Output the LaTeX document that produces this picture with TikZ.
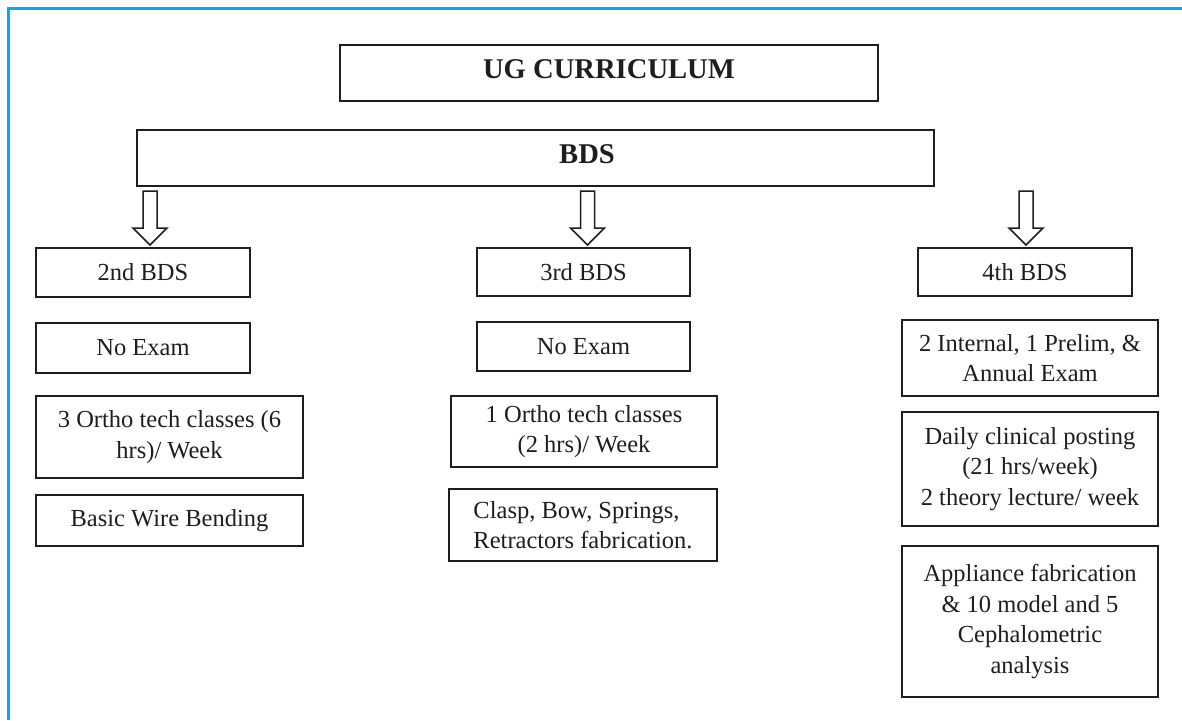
\documentclass[tikz,border=0pt]{standalone}
\usepackage{fontspec}
\setmainfont{Liberation Serif}
\usetikzlibrary{calc}

\definecolor{framecyan}{HTML}{00AEEF}
\definecolor{ink}{HTML}{1E1E1E}

\newcommand\basefont{\fontsize{24.5}{30.5}\selectfont}
\newcommand\headfont{\fontsize{28.6}{34}\selectfont\bfseries}

% hollow block arrow pointing down: #1 = x position, #2 = upper node, #3 = lower node
\newcommand\openarrow[3]{%
  \draw[arrowbody] let \p1=(#2.south), \p2=(#3.north) in
    (#1pt-7pt,\y1-5pt) -- (#1pt+7pt,\y1-5pt) -- (#1pt+7pt,\y2+20pt)
    -- (#1pt+17pt,\y2+20pt) -- (#1pt,\y2+3pt) -- (#1pt-17pt,\y2+20pt)
    -- (#1pt-7pt,\y2+20pt) -- cycle;}

\tikzset{
  box/.style={draw=ink, line width=1.6pt, rectangle, inner sep=0pt, outer sep=0pt,
    text=ink, font=\basefont, align=center},
  headbox/.style={box, font=\headfont},
  arrowbody/.style={draw=ink, line width=1.5pt, fill=white, line join=miter},
}

\begin{document}
\begin{tikzpicture}[x=1pt, y=-1pt]
\useasboundingbox (0,0) rectangle (1182,720);
\fill[white] (0,0) rectangle (1182,720);

% frame
\draw[framecyan, line width=2.6pt] (8.5,720) -- (8.5,8.5) -- (1182,8.5);

% headings
\node[headbox, minimum width=538pt, minimum height=56pt, text depth=8pt] (ug) at (609,73) {UG CURRICULUM};
\node[box, minimum width=797pt, minimum height=56pt] (bds) at (535.5,158) {};
\node[font=\headfont, text=ink, inner sep=0pt, anchor=base] (bdslabel) at (587,163) {BDS};

% year boxes
\node[box, minimum width=214pt, minimum height=49pt] (y2) at (143,272.5) {2nd BDS};
\node[box, minimum width=213pt, minimum height=48pt] (y3) at (583.5,272) {3rd BDS};
\node[box, minimum width=214pt, minimum height=48pt] (y4) at (1025,272) {4th BDS};

\openarrow{150}{bds}{y2}
\openarrow{587.5}{bds}{y3}
\openarrow{1026}{bds}{y4}

% 2nd BDS column
\node[box, minimum width=214pt, minimum height=50pt] (y2exam) at (143,348) {No Exam};
\node[box, minimum width=267pt, minimum height=82pt] (y2class) at (169.5,437) {3 Ortho tech classes (6\\hrs)/ Week};
\node[box, minimum width=267pt, minimum height=51pt] (y2work) at (169.5,520.5) {Basic Wire Bending};

% 3rd BDS column
\node[box, minimum width=213pt, minimum height=49pt] (y3exam) at (583.5,346.5) {No Exam};
\node[box, minimum width=266pt, minimum height=71pt] (y3class) at (584,431.5) {1 Ortho tech classes\\(2 hrs)/ Week};
\node[box, minimum width=268pt, minimum height=72pt, align=left] (y3work) at (583,525) {Clasp, Bow, Springs,\\Retractors fabrication.};

% 4th BDS column
\node[box, minimum width=256pt, minimum height=76pt] (y4exam) at (1030,358) {2 Internal, 1 Prelim, \&\\Annual Exam};
\node[box, minimum width=256pt, minimum height=114pt] (y4class) at (1030,469) {Daily clinical posting\\(21 hrs/week)\\2 theory lecture/ week};
\node[box, minimum width=256pt, minimum height=151pt] (y4work) at (1030,621.5) {Appliance fabrication\\\& 10 model and 5\\Cephalometric\\analysis};
\end{tikzpicture}
\end{document}
